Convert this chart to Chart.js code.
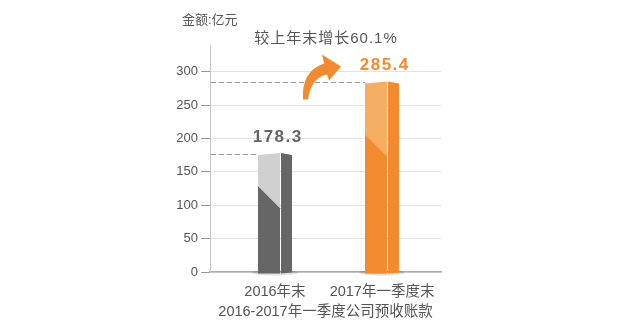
<!DOCTYPE html>
<html>
<head>
<meta charset="utf-8">
<script src="https://cdn.jsdelivr.net/npm/chart.js@4/dist/chart.umd.min.js"></script>
<style>
html,body{margin:0;padding:0;background:#fff;}
#c{display:block;}
</style>
</head>
<body>
<canvas id="c" width="620" height="327"></canvas>
<script>
const categories = ['2016年末', '2017年一季度末'];
const values = [178.3, 285.4];
const valueLabels = ['178.3', '285.4'];
const yTicks = [0, 50, 100, 150, 200, 250, 300];
const unitText = '金额:亿元';
const growthText = '较上年末增长60.1%';
const axisTitle = '2016-2017年一季度公司预收账款';

const palettes = [
  {light: '#d0d0d0', dark: '#666666', side: '#666666', label: '#666666'},
  {light: '#f5ae62', dark: '#f28b30', side: '#f28b30', label: '#f28b30'}
];

const FONT = '"Liberation Sans", Arial, "Noto Sans CJK SC", sans-serif';
Chart.defaults.font.family = FONT;

function drawSpaced(ctx, text, x, y, spacing) {
  ctx.letterSpacing = spacing + 'px';
  ctx.fillText(text, x + spacing / 2, y);
  ctx.letterSpacing = '0px';
}

const decor = {
  id: 'decor',
  afterDatasetsDraw(chart) {
    const ctx = chart.ctx, area = chart.chartArea;
    const meta = chart.getDatasetMeta(0);
    ctx.save();
    meta.data.forEach((bar, i) => {
      const p = bar.getProps(['x', 'y', 'base', 'width'], true);
      const x0 = Math.round(p.x - p.width / 2), x1 = Math.round(p.x + p.width / 2);
      const top = p.y, base = p.base;
      const fw = Math.round(p.width * 0.65);
      const xd = x0 + fw;
      const pal = palettes[i];
      // base shadow
      ctx.fillStyle = 'rgba(0,0,0,0.12)';
      ctx.beginPath();
      ctx.ellipse(p.x, base + 1, p.width / 2 + 6, 3, 0, 0, Math.PI * 2);
      ctx.fill();
      // dashed reference line
      ctx.strokeStyle = '#9a9a9a';
      ctx.lineWidth = 1;
      ctx.setLineDash([5, 3]);
      ctx.beginPath();
      const dy = Math.round(top) + 1.5;
      ctx.moveTo(area.left + 1, dy);
      ctx.lineTo(x0, dy);
      ctx.stroke();
      ctx.setLineDash([]);
      // front face light part
      const h = base - top;
      ctx.fillStyle = pal.light;
      ctx.beginPath();
      ctx.moveTo(x0, top + 2);
      ctx.lineTo(xd, top);
      ctx.lineTo(xd, base + 2);
      ctx.lineTo(x0, base + 2);
      ctx.closePath();
      ctx.fill();
      // front face dark part
      const yl = top + h * 0.28;
      ctx.fillStyle = pal.dark;
      ctx.beginPath();
      ctx.moveTo(x0, yl);
      ctx.lineTo(xd, yl + fw);
      ctx.lineTo(xd, base + 2);
      ctx.lineTo(x0, base + 2);
      ctx.closePath();
      ctx.fill();
      // side face
      ctx.fillStyle = pal.side;
      ctx.beginPath();
      ctx.moveTo(xd + 1, top);
      ctx.lineTo(x1, top + 2);
      ctx.lineTo(x1, base + 1);
      ctx.lineTo(xd + 1, base + 2);
      ctx.closePath();
      ctx.fill();
      // value label
      ctx.fillStyle = pal.label;
      ctx.font = 'bold 17px ' + FONT;
      ctx.textAlign = 'center';
      ctx.textBaseline = 'middle';
      drawSpaced(ctx, valueLabels[i], p.x + 2, top - 16, 1.5);
    });
    // growth arrow, placed relative to the second bar
    const b2 = meta.data[1].getProps(['x', 'y', 'width'], true);
    const ax = b2.x - b2.width / 2, ay = b2.y;
    ctx.fillStyle = '#f28b30';
    ctx.beginPath();
    ctx.moveTo(ax - 62, ay + 18);
    ctx.quadraticCurveTo(ax - 64, ay - 10, ax - 41, ay - 18);
    ctx.lineTo(ax - 43, ay - 27);
    ctx.lineTo(ax - 24, ay - 15);
    ctx.lineTo(ax - 36, ay - 1);
    ctx.lineTo(ax - 38, ay - 7);
    ctx.quadraticCurveTo(ax - 54, ay - 4, ax - 57, ay + 18);
    ctx.closePath();
    ctx.fill();
    // texts
    ctx.fillStyle = '#555';
    ctx.textBaseline = 'middle';
    ctx.textAlign = 'center';
    ctx.font = '15px ' + FONT;
    drawSpaced(ctx, growthText, (area.left + area.right) / 2, area.top - 6, 1);
    ctx.textAlign = 'left';
    ctx.font = '13px ' + FONT;
    ctx.fillText(unitText, area.left - 28, 20);
    ctx.restore();
  }
};

new Chart(document.getElementById('c'), {
  type: 'bar',
  data: {
    datasets: [{
      data: categories.map((c, i) => ({x: i, y: values[i]})),
      backgroundColor: 'rgba(0,0,0,0)',
      borderWidth: 0,
      barThickness: 34
    }]
  },
  options: {
    responsive: false,
    animation: false,
    events: [],
    layout: {padding: {top: 45, right: 179, left: 0, bottom: 0}},
    plugins: {legend: {display: false}, tooltip: {enabled: false}},
    scales: {
      x: {
        type: 'linear',
        offset: false,
        min: -0.607,
        max: 1.551,
        afterFit: s => { s.height = 55; },
        afterBuildTicks: s => { s.ticks = categories.map((c, i) => ({value: i})); },
        grid: {display: false, drawTicks: false, offset: false},
        border: {display: true, color: '#aaaaaa', width: 1.5},
        ticks: {
          autoSkip: false, maxRotation: 0, padding: 11,
          color: '#555', font: {size: 14.5},
          callback: v => categories[v]
        },
        title: {
          display: true, text: axisTitle, color: '#555',
          font: {size: 14.5}, padding: {top: 0, bottom: 6}
        }
      },
      y: {
        min: 0,
        max: 340,
        afterFit: s => { s.width = 210; },
        afterBuildTicks: s => { s.ticks = yTicks.map(v => ({value: v})); },
        grid: {color: '#e3e3e3', tickColor: '#999', tickLength: 9, lineWidth: 1},
        border: {display: true, color: '#c4c4c4', width: 1},
        ticks: {color: '#555', font: {size: 13}, padding: 3, callback: v => String(v)}
      }
    }
  },
  plugins: [decor]
});
</script>
</body>
</html>
